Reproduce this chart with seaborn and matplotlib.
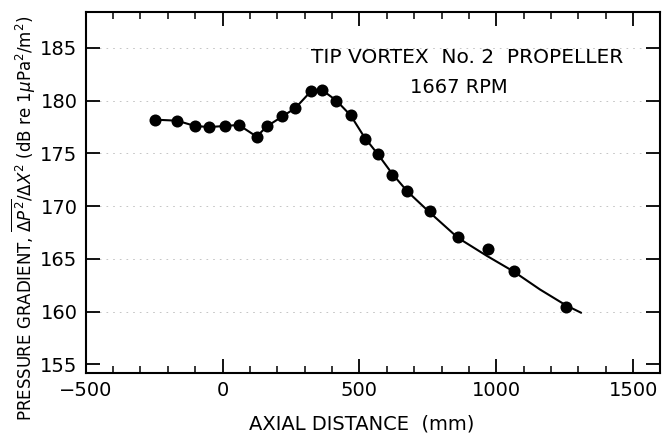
import numpy as np
import pandas as pd
import matplotlib
matplotlib.use("Agg")
import matplotlib.pyplot as plt
import seaborn as sns
from matplotlib.ticker import MultipleLocator

# measured points
axial_mm = [-247, -166, -101, -49, 8, 59, 124, 164, 218, 266, 323, 364,
            416, 468, 519, 568, 619, 675, 757, 860, 969, 1064, 1255]
grad_db = [178.2, 178.1, 177.6, 177.5, 177.6, 177.7, 176.6, 177.6, 178.5, 179.3,
           180.9, 181.0, 180.0, 178.6, 176.4, 174.9, 173.0, 171.4, 169.5, 167.1,
           165.9, 163.9, 160.4]

# drawn trend line
line_x = [-247, -166, -101, -49, 8, 59, 124, 164, 218, 266, 323, 364,
          416, 468, 519, 568, 619, 675, 757, 860, 965, 1064, 1160, 1255, 1310]
line_y = [178.2, 178.1, 177.6, 177.5, 177.6, 177.7, 176.6, 177.6, 178.5, 179.3,
          180.9, 181.0, 180.0, 178.6, 176.5, 174.9, 173.1, 171.4, 169.4, 167.0,
          165.3, 163.8, 162.1, 160.6, 159.9]

x_ticks = [-500, 0, 500, 1000, 1500]
y_ticks = [155, 160, 165, 170, 175, 180, 185]

sns.set_style("ticks")
plt.rcParams['font.family'] = ['DejaVu Sans']
plt.rcParams['text.color'] = 'black'
plt.rcParams['axes.labelcolor'] = 'black'
plt.rcParams['xtick.color'] = 'black'
plt.rcParams['ytick.color'] = 'black'

fig = plt.figure(figsize=(6.7, 4.45), dpi=100)
ax = fig.add_axes([0.128, 0.162, 0.857, 0.811])

# faint scan-like grid
for yv in [160, 165, 170, 175, 180, 185]:
    ax.axhline(yv, color="#bbbbbb", lw=0.6, ls=(0, (2, 6)), zorder=0)

pts = pd.DataFrame({"x": axial_mm, "y": grad_db})
ln = pd.DataFrame({"x": line_x, "y": line_y})
sns.lineplot(data=ln, x="x", y="y", sort=False, color="black", lw=1.5, ax=ax, zorder=2)
sns.scatterplot(data=pts, x="x", y="y", color="black", s=75, edgecolor="black",
                linewidth=0, ax=ax, zorder=3)

ax.set_xlim(-500, 1598)
ax.set_ylim(154.2, 188.4)
ax.set_xticks(x_ticks)
ax.set_yticks(y_ticks)
ax.xaxis.set_minor_locator(MultipleLocator(100))
ax.tick_params(axis="both", which="major", direction="in", length=10, width=1.3,
               labelsize=14, top=True, right=True, pad=6)
ax.tick_params(axis="x", which="minor", direction="in", length=5, width=1.1,
               top=True, bottom=True)
for s in ax.spines.values():
    s.set_linewidth(1.5)
    s.set_color("black")

ax.set_xlabel("AXIAL DISTANCE  (mm)", fontsize=14)
ax.xaxis.set_label_coords(0.48, -0.115)
ax.set_ylabel(r"PRESSURE GRADIENT, $\overline{\Delta P^2}/\Delta X^2$ (dB re 1$\mu$Pa$^2$/m$^2$)",
              fontsize=12)
ax.yaxis.set_label_coords(-0.084, 0.427)

ax.text(0.665, 0.873, "TIP VORTEX  No. 2  PROPELLER", transform=ax.transAxes,
        ha="center", va="center", fontsize=14.5)
ax.text(0.649, 0.792, "1667 RPM", transform=ax.transAxes,
        ha="center", va="center", fontsize=14)

fig.savefig("out.png", dpi=100)
